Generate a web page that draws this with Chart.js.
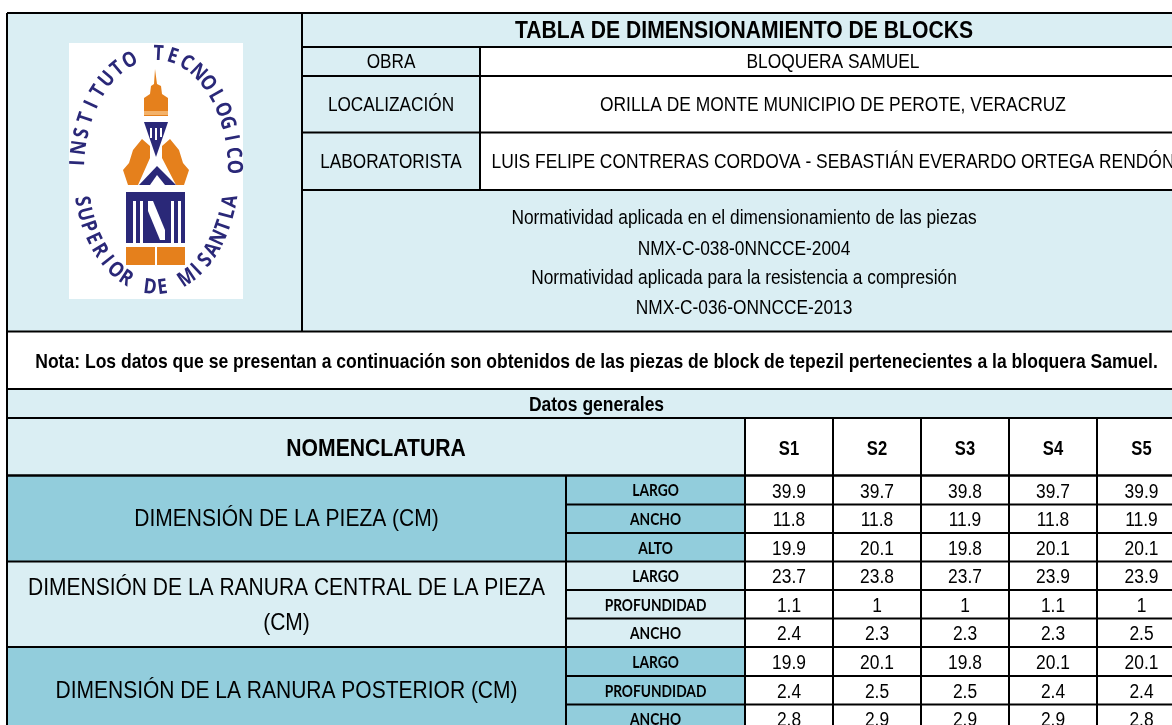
<!DOCTYPE html>
<html lang="es">
<head>
<meta charset="utf-8">
<title>Tabla de dimensionamiento de blocks</title>
<script src="https://cdn.jsdelivr.net/npm/chart.js@4"></script>
<style>
  html, body { margin: 0; padding: 0; background: #fff; }
  canvas { display: block; }
</style>
</head>
<body>
<canvas id="tabla" width="1172" height="725"></canvas>
<script>
// Table content
const tableTitle = 'TABLA DE DIMENSIONAMIENTO DE BLOCKS';
const infoLabels = ['OBRA', 'LOCALIZACIÓN', 'LABORATORISTA'];
const infoValues = [
    'BLOQUERA SAMUEL',
    'ORILLA DE MONTE MUNICIPIO DE PEROTE, VERACRUZ',
    'LUIS FELIPE CONTRERAS CORDOVA - SEBASTIÁN EVERARDO ORTEGA RENDÓN'
];
const normLines = [
    'Normatividad aplicada en el dimensionamiento de las piezas',
    'NMX-C-038-0NNCCE-2004',
    'Normatividad aplicada para la resistencia a compresión',
    'NMX-C-036-ONNCCE-2013'
];
const noteText = 'Nota: Los datos que se presentan a continuación son obtenidos de las piezas de block de tepezil pertenecientes a la bloquera Samuel.';
const generalTitle = 'Datos generales';
const nomenclature = 'NOMENCLATURA';
const samples = ['S1', 'S2', 'S3', 'S4', 'S5'];
const groupLabels = [
    ['DIMENSIÓN DE LA PIEZA (CM)'],
    ['DIMENSIÓN DE LA RANURA CENTRAL DE LA PIEZA', '(CM)'],
    ['DIMENSIÓN DE LA RANURA POSTERIOR (CM)']
];
const measures = ['LARGO', 'ANCHO', 'ALTO', 'LARGO', 'PROFUNDIDAD', 'ANCHO', 'LARGO', 'PROFUNDIDAD', 'ANCHO'];
const s1 = [39.9, 11.8, 19.9, 23.7, 1.1, 2.4, 19.9, 2.4, 2.8];
const s2 = [39.7, 11.8, 20.1, 23.8, 1, 2.3, 20.1, 2.5, 2.9];
const s3 = [39.8, 11.9, 19.8, 23.7, 1, 2.3, 19.8, 2.5, 2.9];
const s4 = [39.7, 11.8, 20.1, 23.9, 1.1, 2.3, 20.1, 2.4, 2.9];
const s5 = [39.9, 11.9, 20.1, 23.9, 1, 2.5, 20.1, 2.4, 2.8];
const sampleValues = [s1, s2, s3, s4, s5];

// Layout, in picture units (the hidden axes run 0-1172 and 0-725)
const LEFT = 7, RIGHT = 1186, TOP = 13;
const HEADER_X = 302, INFO_X = 480, GROUP_X = 566;
const valueEdges = [745, 833, 921, 1009, 1097, 1186];
const headerRows = [13, 47, 76, 132.5, 190, 331.5, 389, 418, 475.5];
const bodyRows = [475.5, 504.5, 533, 561.5, 590, 618.5, 647, 676, 704.5, 733];

const LIGHT = '#DAEEF3';
const MEDIUM = '#92CDDC';
const NAVY = '#2A2878';
const ORANGE = '#E5801C';
const SANS = '"Liberation Sans", Arial, sans-serif';

const valueDatasets = sampleValues.map((values, c) => ({
    label: samples[c],
    data: values.map((v, r) => ({
        x: (valueEdges[c] + valueEdges[c + 1]) / 2,
        y: (bodyRows[r] + bodyRows[r + 1]) / 2
    })),
    pointRadius: 0,
    showLine: false
}));

const tablePlugin = {
    id: 'tablePlugin',
    beforeDatasetsDraw(chart) {
        const { ctx, scales } = chart;
        const px = v => scales.x.getPixelForValue(v);
        const py = v => scales.y.getPixelForValue(v);

        const fill = (x0, y0, x1, y1, color) => {
            ctx.fillStyle = color;
            ctx.fillRect(px(x0), py(y0), px(x1) - px(x0), py(y1) - py(y0));
        };
        const hLine = (x0, x1, y, w = 2) => {
            ctx.fillStyle = '#000';
            ctx.fillRect(px(x0), py(y) - w / 2, px(x1) - px(x0), w);
        };
        const vLine = (x, y0, y1, w = 2) => {
            ctx.fillStyle = '#000';
            ctx.fillRect(px(x) - w / 2, py(y0), w, py(y1) - py(y0));
        };

        ctx.save();
        // Backgrounds
        fill(LEFT, TOP, RIGHT, headerRows[5], LIGHT);
        fill(INFO_X, headerRows[1], RIGHT, headerRows[4], '#fff');
        fill(LEFT, headerRows[5], RIGHT, headerRows[6], '#fff');
        fill(LEFT, headerRows[6], RIGHT, headerRows[8], LIGHT);
        fill(valueEdges[0], headerRows[7], RIGHT, 725, '#fff');
        fill(LEFT, bodyRows[0], valueEdges[0], bodyRows[3], MEDIUM);
        fill(LEFT, bodyRows[3], valueEdges[0], bodyRows[6], LIGHT);
        fill(LEFT, bodyRows[6], valueEdges[0], 725, MEDIUM);

        // Borders
        vLine(LEFT, TOP, 725);
        vLine(HEADER_X, TOP, headerRows[5]);
        vLine(INFO_X, headerRows[1], headerRows[4]);
        headerRows.forEach((y, i) => {
            const x0 = i >= 1 && i <= 4 ? HEADER_X : LEFT;
            hLine(x0, RIGHT, y);
        });
        valueEdges.forEach(x => vLine(x, headerRows[7], 725));
        vLine(GROUP_X, bodyRows[0], 725);
        bodyRows.forEach((y, i) => {
            const major = i % 3 === 0;
            hLine(major ? LEFT : GROUP_X, RIGHT, y);
        });
        ctx.restore();

        drawLogo(ctx, px, py);
    },
    afterDatasetsDraw(chart) {
        const { ctx, scales } = chart;
        const px = v => scales.x.getPixelForValue(v);
        const py = v => scales.y.getPixelForValue(v);
        const text = (str, x, y, font, sx = 1) => drawText(ctx, str, px(x), py(y), font, sx);
        const mid = (a, i) => (a[i] + a[i + 1]) / 2;

        text(tableTitle, (HEADER_X + RIGHT) / 2, 31.5, 'bold 24px ' + SANS, 0.88);
        infoLabels.forEach((t, i) => text(t, (HEADER_X + INFO_X) / 2, mid(headerRows, i + 1) + 1, '20px ' + SANS, 0.86));
        infoValues.forEach((t, i) => text(t, (INFO_X + RIGHT) / 2, mid(headerRows, i + 1) + 1, '20px ' + SANS, 0.87));
        [218.5, 249, 278, 308].forEach((y, i) => text(normLines[i], (HEADER_X + RIGHT) / 2, y, '20.5px ' + SANS, 0.845));
        text(noteText, (LEFT + RIGHT) / 2, 362, 'bold 21px ' + SANS, 0.835);
        text(generalTitle, (LEFT + RIGHT) / 2, 405, 'bold 20px ' + SANS, 0.875);
        text(nomenclature, (LEFT + valueEdges[0]) / 2, 449.5, 'bold 23px ' + SANS, 0.92);

        samples.forEach((s, c) => text(s, (valueEdges[c] + valueEdges[c + 1]) / 2, 449, 'bold 20px ' + SANS, 0.83));
        measures.forEach((m, r) => text(m, (GROUP_X + valueEdges[0]) / 2, mid(bodyRows, r) + 1, 'bold 17px Lato, ' + SANS, 0.81));

        groupLabels.forEach((lines, g) => {
            const y0 = bodyRows[g * 3], y1 = bodyRows[g * 3 + 3];
            const cy = (y0 + y1) / 2;
            lines.forEach((t, i) => {
                const y = cy + (i - (lines.length - 1) / 2) * 35 + lines.length;
                text(t, (LEFT + GROUP_X) / 2, y, '24px ' + SANS, 0.875);
            });
        });

        // Sample values sit on the points the chart placed for each dataset
        chart.data.datasets.forEach((ds, c) => {
            chart.getDatasetMeta(c).data.forEach((pt, r) => {
                drawText(ctx, String(sampleValues[c][r]), pt.x, pt.y + 2, '20px ' + SANS, 0.87);
            });
        });
    }
};

function drawText(ctx, str, x, y, font, sx) {
    ctx.save();
    ctx.font = font;
    ctx.fillStyle = '#000';
    ctx.textAlign = 'center';
    ctx.textBaseline = 'middle';
    ctx.translate(x, y);
    ctx.scale(sx, 1);
    ctx.fillText(str, 0, 0);
    ctx.restore();
}

// Letters laid out at equal arc length on an ellipse for the school seal
function drawSealText(ctx, str, cx, cy, rx, ry, a0, a1, flip) {
    ctx.font = 'bold 21px "Open Sans", ' + SANS;
    ctx.fillStyle = NAVY;
    ctx.textAlign = 'center';
    ctx.textBaseline = 'middle';
    const steps = 400;
    const angle = k => (a0 + (a1 - a0) * k / steps) * Math.PI / 180;
    const lengths = [0];
    for (let k = 1; k <= steps; k++) {
        const dx = rx * (Math.cos(angle(k)) - Math.cos(angle(k - 1)));
        const dy = ry * (Math.sin(angle(k)) - Math.sin(angle(k - 1)));
        lengths.push(lengths[k - 1] + Math.hypot(dx, dy));
    }
    const n = str.length - 1;
    for (let i = 0, k = 0; i <= n; i++) {
        while (k < steps && lengths[k] < lengths[steps] * i / n) k++;
        const t = angle(k);
        const tangent = Math.atan2(ry * Math.cos(t), -rx * Math.sin(t));
        ctx.save();
        ctx.translate(cx + rx * Math.cos(t), cy + ry * Math.sin(t));
        ctx.rotate(flip ? tangent + Math.PI : tangent);
        ctx.scale(0.85, 1);
        ctx.fillText(str[i], 0, 0);
        ctx.restore();
    }
}

function poly(ctx, color, pts) {
    ctx.fillStyle = color;
    ctx.beginPath();
    pts.forEach((p, i) => i ? ctx.lineTo(p[0], p[1]) : ctx.moveTo(p[0], p[1]));
    ctx.closePath();
    ctx.fill();
}

function drawLogo(ctx, px, py) {
    ctx.save();
    ctx.translate(px(0), py(0));
    ctx.fillStyle = '#fff';
    ctx.fillRect(69, 43, 174, 256);
    ctx.filter = 'blur(0.6px)';

    drawSealText(ctx, 'INSTITUTO TECNOLOGICO', 156, 171, 78, 117, 184, 358, false);
    drawSealText(ctx, 'SUPERIOR DE MISANTLA', 156, 171, 77, 117, 165, 15, true);

    // Crown
    poly(ctx, ORANGE, [[155, 69], [157, 84], [161, 86], [162, 94], [168, 98], [168, 116], [144, 116], [144, 98], [150, 94], [151, 86], [154, 84]]);
    ctx.fillStyle = '#F3B26A';
    ctx.fillRect(144, 111, 24, 4);
    // Shield
    poly(ctx, NAVY, [[144, 122], [168, 122], [156, 157]]);
    ctx.fillStyle = '#fff';
    ctx.fillRect(150, 128, 2, 10);
    ctx.fillRect(155, 128, 2, 12);
    ctx.fillRect(160, 128, 2, 9);
    // Gears
    poly(ctx, ORANGE, [[142, 139], [150, 146], [150, 158], [138, 185], [128, 185], [123, 170], [129, 163], [133, 150]]);
    poly(ctx, ORANGE, [[170, 139], [162, 146], [162, 158], [176, 185], [184, 185], [189, 170], [183, 163], [179, 150]]);
    // Small triangle
    poly(ctx, NAVY, [[157, 166], [176, 185], [139, 185]]);
    poly(ctx, '#fff', [[157, 175], [165, 185], [150, 185]]);
    // ITSM block
    ctx.fillStyle = NAVY;
    ctx.fillRect(126, 192, 59, 51);
    ctx.fillStyle = '#fff';
    [133, 140, 171, 178].forEach(x => ctx.fillRect(x, 201, 3, 42));
    poly(ctx, '#fff', [[148, 201], [153, 201], [165, 230], [165, 240], [160, 240], [148, 211]]);
    // Base
    ctx.fillStyle = ORANGE;
    ctx.fillRect(126, 247, 59, 18);
    ctx.fillStyle = '#fff';
    ctx.fillRect(155, 247, 2, 18);
    ctx.restore();
}

new Chart(document.getElementById('tabla'), {
    type: 'scatter',
    data: { datasets: valueDatasets },
    options: {
        responsive: false,
        animation: false,
        layout: { padding: 0 },
        plugins: { legend: { display: false }, tooltip: { enabled: false } },
        scales: {
            x: { type: 'linear', display: false, min: 0, max: 1172 },
            y: { type: 'linear', display: false, min: 0, max: 725, reverse: true }
        }
    },
    plugins: [tablePlugin]
});
</script>
</body>
</html>
